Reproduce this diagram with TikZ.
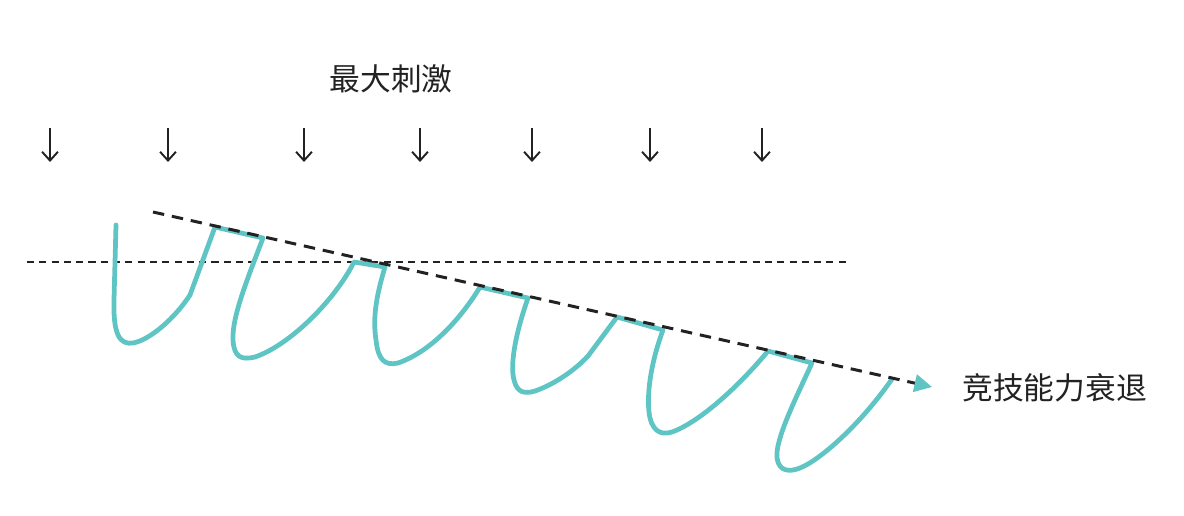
\documentclass[tikz,border=0pt]{standalone}
\usepackage{fontspec}
\newfontfamily\cjk{Noto Sans CJK SC}
\usetikzlibrary{arrows.meta}
\definecolor{teal_line}{HTML}{5EC4C4}
\definecolor{ink}{HTML}{222222}

\begin{document}
\begin{tikzpicture}[x=0.02cm,y=-0.02cm,
    stim/.style={draw=ink,line width=1.1pt,-{Straight Barb[length=5pt,width=9pt]}},
    level/.style={draw=ink,line width=0.85pt,dash pattern=on 4pt off 3pt},
    trend/.style={draw=ink,line width=1.7pt,dash pattern=on 6.5pt off 4.5pt,
        -{Triangle[length=10pt,width=10pt,fill=teal_line,color=teal_line]}},
    wave/.style={draw=teal_line,line width=2.7pt,line join=round,line cap=round},
    label_node/.style={font=\cjk\fontsize{17.5pt}{20pt}\selectfont,text=ink,inner sep=0pt}]
    \useasboundingbox (0,0) rectangle (1184,515);

    \node[label_node] (stimulus) at (391,79) {最大刺激};
    \node[label_node,anchor=west] (decline) at (962,388) {竞技能力衰退};

    \foreach \x in {50,168,304,420,532,650,762}
        \draw[stim] (\x,128) -- (\x,162);

    \coordinate (level_start) at (27,262);
    \coordinate (level_end) at (848,262);
    \draw[level] (level_start) -- (level_end);

    \draw[wave] (116,225) -- (114,300)
        .. controls (113,335) and (120,345) .. (133,343)
        .. controls (150,340) and (175,318) .. (190,295)
        -- (215,227) -- (263,238)
        .. controls (245,285) and (232,318) .. (233,340)
        .. controls (234,358) and (242,360) .. (255,357)
        .. controls (290,345) and (335,300) .. (354,262)
        -- (385,267)
        .. controls (375,300) and (373,320) .. (376,340)
        .. controls (378,360) and (385,366) .. (398,363)
        .. controls (430,352) and (460,320) .. (480,287)
        -- (528,298)
        .. controls (515,335) and (510,365) .. (514,380)
        .. controls (517,393) and (525,394) .. (535,391)
        .. controls (555,384) and (575,370) .. (588,356)
        -- (617,317) -- (663,330)
        .. controls (650,365) and (647,395) .. (649,412)
        .. controls (651,430) and (660,436) .. (672,432)
        .. controls (700,422) and (740,385) .. (768,351)
        -- (812,363)
        .. controls (795,400) and (775,440) .. (777,458)
        .. controls (779,472) and (790,472) .. (800,468)
        .. controls (820,460) and (860,425) .. (892,379);

    \coordinate (trend_start) at (153,212);
    \coordinate (trend_end) at (932,387);
    \draw[trend] (trend_start) -- (trend_end);
\end{tikzpicture}
\end{document}
